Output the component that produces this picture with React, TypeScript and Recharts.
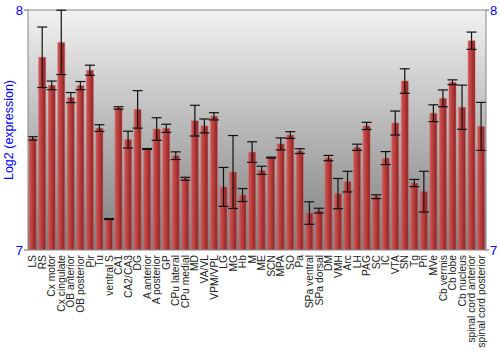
import React from "react";
import { BarChart, Bar, XAxis, YAxis, CartesianGrid, ErrorBar, ReferenceLine } from "recharts";

const regions = ["LS", "RS", "Cx motor", "Cx cingulate", "OB anterior", "OB posterior", "Pir", "Tu", "ventral S", "CA1", "CA2/CA3", "DG", "A anterior", "A posterior", "GP", "CPu lateral", "CPu medial", "MD", "VA/VL", "VPM/VPL", "LG", "MG", "Hb", "M", "ME", "SCN", "MPA", "SO", "Pa", "SPa ventral", "SPa dorsal", "DM", "VMH", "Arc", "LH", "PAG", "SC", "IC", "VTA", "SN", "Tg", "Pn", "MVe", "Cb vermis", "Cb lobe", "Cb nucleus", "spinal cord anterior", "spinal cord posterior"];

const expression = [7.465, 7.803, 7.686, 7.865, 7.635, 7.685, 7.749, 7.508, 7.129, 7.592, 7.46, 7.586, 7.421, 7.504, 7.507, 7.393, 7.297, 7.539, 7.517, 7.557, 7.263, 7.325, 7.229, 7.408, 7.332, 7.385, 7.442, 7.479, 7.412, 7.154, 7.164, 7.383, 7.235, 7.285, 7.428, 7.517, 7.222, 7.383, 7.529, 7.704, 7.279, 7.243, 7.57, 7.632, 7.699, 7.595, 7.872, 7.515];

const errors = [0.007, 0.126, 0.018, 0.134, 0.021, 0.017, 0.021, 0.014, 0.002, 0.005, 0.035, 0.078, 0.002, 0.047, 0.017, 0.016, 0.006, 0.064, 0.029, 0.015, 0.081, 0.152, 0.027, 0.043, 0.017, 0.002, 0.025, 0.014, 0.01, 0.047, 0.01, 0.011, 0.063, 0.043, 0.013, 0.015, 0.008, 0.027, 0.05, 0.051, 0.015, 0.085, 0.035, 0.035, 0.01, 0.092, 0.036, 0.1];

const yTicks = [7, 8];

const data = regions.map((name, i) => ({ name, value: expression[i], err: errors[i] }));

const FONT = "'Liberation Sans', Arial, sans-serif";

const XTick = (props: any) => {
  const { x, y, payload } = props;
  const yy = y + 3;
  return (
    <text
      x={x}
      y={yy}
      transform={`rotate(-90 ${x} ${yy})`}
      textAnchor="end"
      dominantBaseline="central"
      fontSize={10.3}
      fontFamily={FONT}
      fill="#222"
    >
      {payload.value}
    </text>
  );
};

export default function App() {
  return (
    <div style={{ position: "absolute", left: 0, top: 0 }}>
      <BarChart
        width={500}
        height={350}
        data={data}
        margin={{ top: 10, right: 0, left: 0, bottom: 0 }}
        barCategoryGap="12%"
      >
        <defs>
          <linearGradient id="bgGrad" x1="0" y1="0" x2="0" y2="1">
            <stop offset="0%" stopColor="#f2f2f2" />
            <stop offset="100%" stopColor="#7c7c7c" />
          </linearGradient>
          <linearGradient id="barGrad" x1="0" y1="0" x2="1" y2="0">
            <stop offset="0%" stopColor="#cc5656" />
            <stop offset="35%" stopColor="#c04242" />
            <stop offset="100%" stopColor="#8a2222" />
          </linearGradient>
        </defs>
        <CartesianGrid horizontal={false} vertical={false} fill="url(#bgGrad)" fillOpacity={1} yAxisId="left" />
        <XAxis
          dataKey="name"
          interval={0}
          height={100}
          tickSize={0}
          tick={<XTick />}
          axisLine={{ stroke: "#888" }}
        />
        <YAxis
          yAxisId="left"
          domain={[7, 8]}
          ticks={yTicks}
          allowDataOverflow
          width={28}
          tickSize={4}
          tickMargin={1}
          axisLine={{ stroke: "#888" }}
          tickLine={{ stroke: "#666" }}
          tick={{ fill: "#0000ff", fontSize: 13, fontFamily: FONT }}
          label={{
            value: "Log2 (expression)",
            angle: -90,
            position: "insideLeft",
            offset: 0,
            dx: 9,
            style: { fill: "#0000ff", fontSize: 12.5, fontFamily: FONT, textAnchor: "middle" },
          }}
        />
        <YAxis
          yAxisId="right"
          orientation="right"
          domain={[7, 8]}
          ticks={yTicks}
          allowDataOverflow
          width={14}
          tickSize={3}
          tickMargin={1}
          axisLine={{ stroke: "#888" }}
          tickLine={{ stroke: "#666" }}
          tick={{ fill: "#0000ff", fontSize: 13, fontFamily: FONT }}
        />
        <ReferenceLine yAxisId="left" y={8} stroke="#888" />
        <Bar
          yAxisId="left"
          dataKey="value"
          fill="url(#barGrad)"
          stroke="#d26a6a"
          strokeWidth={0.5}
          isAnimationActive={false}
        >
          <ErrorBar dataKey="err" width={5} stroke="#111" strokeWidth={1.2} direction="y" />
        </Bar>
      </BarChart>
    </div>
  );
}
